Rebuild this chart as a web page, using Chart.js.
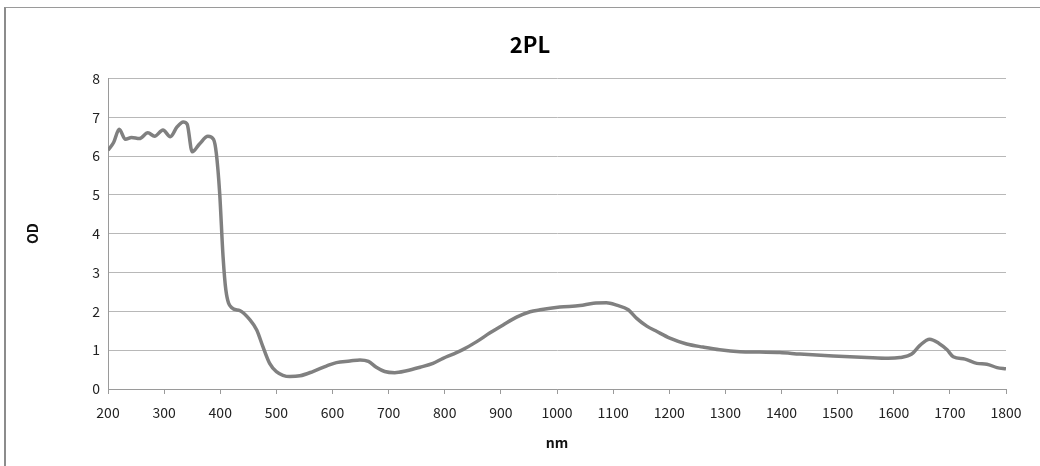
<!DOCTYPE html>
<html>
<head>
<meta charset="utf-8">
<script src="https://cdn.jsdelivr.net/npm/chart.js@4/dist/chart.umd.min.js"></script>
<style>
  html, body { margin: 0; padding: 0; background: #fff; overflow: hidden; }
  #wrap { position: relative; width: 1040px; height: 466px; }
  #frame { position: absolute; left: 4px; top: 7px; width: 3000px; height: 3000px;
           border-left: 2px solid #8c8c8c; border-top: 1px solid #9a9a9a; box-sizing: border-box; }
  canvas { position: absolute; left: 0; top: 0; }
</style>
</head>
<body>
<div id="wrap">
  <div id="frame"></div>
  <canvas id="c" width="1040" height="466"></canvas>
</div>
<script>
// Wavelength (nm) samples
const wavelengths = [200,210,220,231,242,256,271,283,298,311,323,334,341,350,363,378,388,393,399,405,410,420,435,453,465,476,488,500,524,542,565,589,607,631,649,664,678,693,711,732,756,779,797,815,833,857,880,904,928,952,970,1005,1041,1065,1088,1106,1127,1142,1160,1178,1201,1231,1260,1290,1326,1361,1397,1433,1492,1552,1590,1611,1632,1647,1664,1680,1695,1706,1727,1748,1766,1784,1800];
// Optical density values
const odValues = [6.15,6.35,6.69,6.43,6.48,6.45,6.60,6.51,6.67,6.50,6.75,6.88,6.82,6.11,6.31,6.51,6.43,6.07,5.04,3.41,2.55,2.10,2.02,1.78,1.52,1.09,0.66,0.45,0.32,0.34,0.45,0.59,0.68,0.72,0.75,0.71,0.56,0.45,0.42,0.47,0.56,0.66,0.79,0.90,1.02,1.22,1.44,1.65,1.85,1.99,2.04,2.11,2.15,2.21,2.22,2.16,2.04,1.82,1.62,1.48,1.31,1.16,1.08,1.01,0.96,0.95,0.94,0.90,0.85,0.81,0.79,0.81,0.90,1.13,1.28,1.18,1.01,0.83,0.77,0.66,0.64,0.55,0.52];
const xTicks = [200,300,400,500,600,700,800,900,1000,1100,1200,1300,1400,1500,1600,1700,1800];
const yTicks = [0,1,2,3,4,5,6,7,8];
const titleText = '2PL';
const xTitle = 'nm';
const yTitle = 'OD';

const FONT = '"Noto Sans CJK KR", "Liberation Sans", sans-serif';
const points = wavelengths.map((x, i) => ({ x: x, y: odValues[i] }));

new Chart(document.getElementById('c'), {
  type: 'line',
  data: {
    datasets: [{
      data: points,
      borderColor: '#808080',
      borderWidth: 3.5,
      pointRadius: 0,
      fill: false,
      cubicInterpolationMode: 'monotone'
    }]
  },
  options: {
    responsive: false,
    animation: false,
    devicePixelRatio: 1,
    layout: { padding: { left: 20, right: 0, top: 0, bottom: 0 } },
    plugins: {
      legend: { display: false },
      tooltip: { enabled: false },
      title: {
        display: true,
        text: titleText,
        color: '#000',
        font: { family: FONT, size: 22, weight: 'bold' },
        padding: { top: 31, bottom: 21 }
      }
    },
    scales: {
      x: {
        type: 'linear',
        min: 200, max: 1800,
        afterBuildTicks: s => { s.ticks = xTicks.map(v => ({ value: v })); },
        ticks: { color: '#222', font: { family: FONT, size: 14 }, padding: 10, maxRotation: 0, autoSkip: false,
                 callback: v => String(v) },
        grid: { drawOnChartArea: false, drawTicks: true, tickLength: 5, tickColor: '#9a9a9a' },
        border: { display: true, color: '#9a9a9a', width: 1 },
        title: { display: true, text: xTitle, color: '#111', font: { family: FONT, size: 14, weight: 'bold' }, padding: { top: 0, bottom: 15 } },
        afterFit: s => { s.height = 77; }
      },
      y: {
        type: 'linear',
        min: 0, max: 8,
        afterBuildTicks: s => { s.ticks = yTicks.map(v => ({ value: v })); },
        ticks: { color: '#222', font: { family: FONT, size: 14 }, padding: 8, callback: v => String(v) },
        grid: { color: '#b8b8b8', lineWidth: 1, drawTicks: false },
        border: { display: true, color: '#9a9a9a', width: 1 },
        title: { display: true, text: yTitle, color: '#111', font: { family: FONT, size: 14, weight: 'bold' }, padding: { top: 4, bottom: 0 } },
        afterFit: s => { s.width = 88; }
      },
      yRight: {
        type: 'linear',
        position: 'right',
        display: true,
        grid: { display: false, drawTicks: false },
        border: { display: false },
        ticks: { display: false },
        afterFit: s => { s.width = 34; }
      }
    }
  }
});
</script>
</body>
</html>
